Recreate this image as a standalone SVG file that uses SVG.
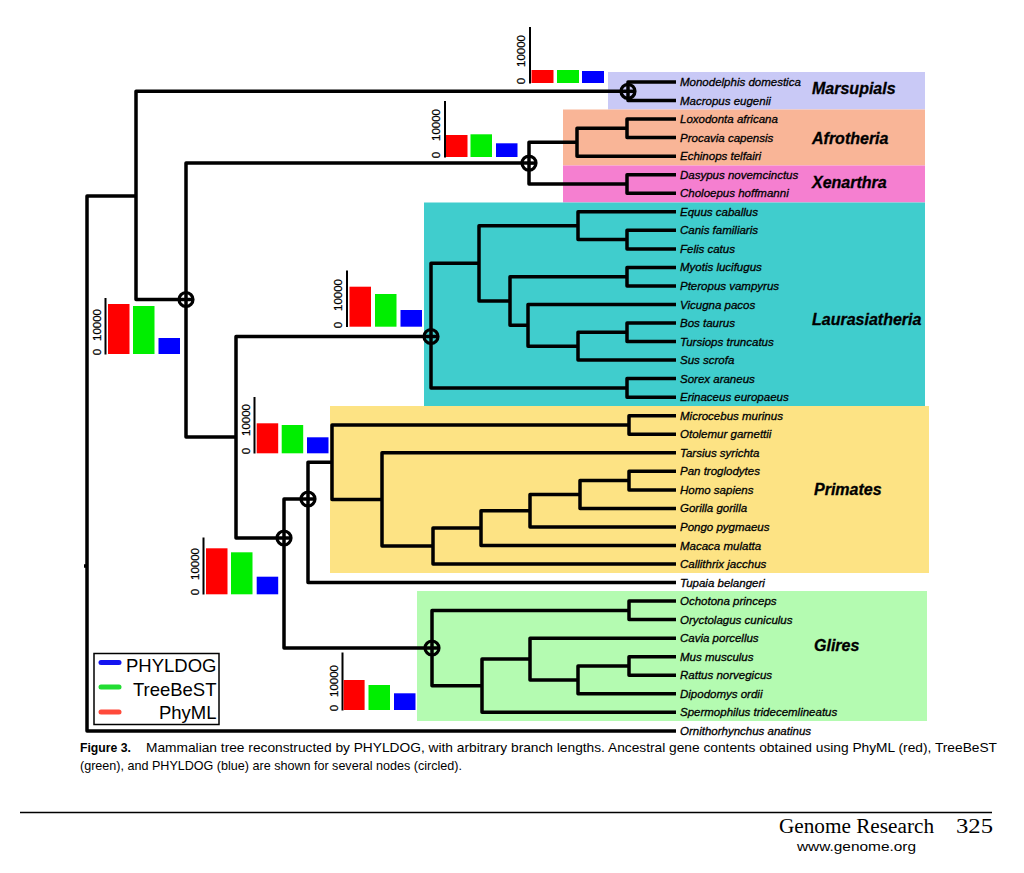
<svg xmlns="http://www.w3.org/2000/svg" width="1024" height="873" viewBox="0 0 1024 873">
<style>
.leaf{font-family:"Liberation Sans",Arial,sans-serif;font-style:italic;font-size:11.5px;fill:#000;stroke:#000;stroke-width:0.3}
.clade{font-family:"Liberation Sans",Arial,sans-serif;font-style:italic;font-weight:bold;font-size:16px;fill:#000;stroke:#000;stroke-width:0.3}
.br{fill:none;stroke:#000;stroke-width:3.5;stroke-linejoin:round;stroke-linecap:butt}
.circ{fill:none;stroke:#000;stroke-width:3.2}
.ax{stroke:#000;stroke-width:2}
.ticklab{font-family:"Liberation Sans",Arial,sans-serif;font-size:11.5px;fill:#000;stroke:#000;stroke-width:0.25}
.r{fill:#ff0000}.g{fill:#00ee00}.b{fill:#0000ff}
.leg{font-family:"Liberation Sans",Arial,sans-serif;font-size:18.5px;fill:#000}
.cap{font-family:"Liberation Sans",Arial,sans-serif;font-size:13px;fill:#000}
</style>
<rect width="1024" height="873" fill="#fff"/>

<g id="clade-boxes">
<g id="box-marsupials"><rect x="608" y="72" width="317" height="37.5" fill="#c9c9f6"/></g>
<g id="box-afrotheria"><rect x="563" y="109.5" width="362" height="56" fill="#f9b597"/></g>
<g id="box-xenarthra"><rect x="563" y="165.5" width="362" height="37" fill="#f57fd0"/></g>
<g id="box-laurasiatheria"><rect x="424" y="202.5" width="501" height="203.5" fill="#40cdcd"/></g>
<g id="box-primates"><rect x="330" y="406" width="599" height="167" fill="#fde384"/></g>
<g id="box-glires"><rect x="417" y="591" width="510" height="130" fill="#b4fbb1"/></g>
</g>

<g id="connectors">
<path class="br" d="M136 196 H87 V730.9 H676"/>
<path class="br" d="M84 566 H88"/>
<path class="br" d="M628 91.3 H136 V299.5 H186"/>
<path class="br" d="M676 82 H628 V100.5 H676"/>
<path class="br" d="M529 163.1 H186 V437 H236"/>
<path class="br" d="M577 142.3 H529 V184 H627"/>
<path class="br" d="M627 128.3 H577 V156.2 H676"/>
<path class="br" d="M676 119.1 H627 V137.6 H676"/>
<path class="br" d="M676 174.7 H627 V193.2 H676"/>
<path class="br" d="M431 336.5 H236 V538 H284"/>
<path class="br" d="M479 263.3 H431 V387.9 H627"/>
<path class="br" d="M578 225.7 H479 V301 H510"/>
<path class="br" d="M676 211.8 H578 V239.6 H627"/>
<path class="br" d="M676 230.3 H627 V248.9 H676"/>
<path class="br" d="M627 276.7 H510 V325.3 H528"/>
<path class="br" d="M676 267.4 H627 V285.9 H676"/>
<path class="br" d="M676 304.5 H528 V346.2 H578"/>
<path class="br" d="M627 332.3 H578 V360.1 H676"/>
<path class="br" d="M676 323 H627 V341.6 H676"/>
<path class="br" d="M676 378.6 H627 V397.2 H676"/>
<path class="br" d="M308 499 H284 V648 H432"/>
<path class="br" d="M332 462.2 H308 V582.6 H676"/>
<path class="br" d="M629 425 H332 V499.4 H382"/>
<path class="br" d="M676 415.7 H629 V434.3 H676"/>
<path class="br" d="M676 452.8 H382 V546.1 H433"/>
<path class="br" d="M481 528.1 H433 V564 H676"/>
<path class="br" d="M530 510.8 H481 V545.5 H676"/>
<path class="br" d="M580 494.5 H530 V527 H676"/>
<path class="br" d="M629 480.6 H580 V508.4 H676"/>
<path class="br" d="M676 471.3 H629 V489.9 H676"/>
<path class="br" d="M629 610.4 H432 V685.7 H482"/>
<path class="br" d="M676 601.1 H629 V619.6 H676"/>
<path class="br" d="M530 659 H482 V712.3 H676"/>
<path class="br" d="M676 638.2 H530 V679.9 H578"/>
<path class="br" d="M629 666 H578 V693.8 H676"/>
<path class="br" d="M676 656.7 H629 V675.3 H676"/>
</g>

<g id="circled-nodes">
<g id="c-theria-marsupial"><circle class="circ" cx="628" cy="91.3" r="7"/><path class="br" d="M628 91.3 H634" stroke-width="3"/></g>
<g id="c-atlantogenata"><circle class="circ" cx="529" cy="163.1" r="7"/><path class="br" d="M529 163.1 H535" stroke-width="3"/></g>
<g id="c-eutheria"><circle class="circ" cx="186" cy="299.5" r="7"/><path class="br" d="M186 299.5 H192" stroke-width="3"/></g>
<g id="c-laurasiatheria"><circle class="circ" cx="431" cy="336.5" r="7"/><path class="br" d="M431 336.5 H437" stroke-width="3"/></g>
<g id="c-euarchonta"><circle class="circ" cx="308" cy="499" r="7"/><path class="br" d="M308 499 H314" stroke-width="3"/></g>
<g id="c-euarchontoglires"><circle class="circ" cx="284" cy="538" r="7"/><path class="br" d="M284 538 H290" stroke-width="3"/></g>
<g id="c-glires"><circle class="circ" cx="432" cy="648" r="7"/><path class="br" d="M432 648 H438" stroke-width="3"/></g>
</g>

<g id="leaves">
<text id="l0" class="leaf" x="680" y="86">Monodelphis domestica</text>
<text id="l1" class="leaf" x="680" y="104.5">Macropus eugenii</text>
<text id="l2" class="leaf" x="680" y="123.1">Loxodonta africana</text>
<text id="l3" class="leaf" x="680" y="141.6">Procavia capensis</text>
<text id="l4" class="leaf" x="680" y="160.2">Echinops telfairi</text>
<text id="l5" class="leaf" x="680" y="178.7">Dasypus novemcinctus</text>
<text id="l6" class="leaf" x="680" y="197.2">Choloepus hoffmanni</text>
<text id="l7" class="leaf" x="680" y="215.8">Equus caballus</text>
<text id="l8" class="leaf" x="680" y="234.3">Canis familiaris</text>
<text id="l9" class="leaf" x="680" y="252.9">Felis catus</text>
<text id="l10" class="leaf" x="680" y="271.4">Myotis lucifugus</text>
<text id="l11" class="leaf" x="680" y="289.9">Pteropus vampyrus</text>
<text id="l12" class="leaf" x="680" y="308.5">Vicugna pacos</text>
<text id="l13" class="leaf" x="680" y="327">Bos taurus</text>
<text id="l14" class="leaf" x="680" y="345.6">Tursiops truncatus</text>
<text id="l15" class="leaf" x="680" y="364.1">Sus scrofa</text>
<text id="l16" class="leaf" x="680" y="382.6">Sorex araneus</text>
<text id="l17" class="leaf" x="680" y="401.2">Erinaceus europaeus</text>
<text id="l18" class="leaf" x="680" y="419.7">Microcebus murinus</text>
<text id="l19" class="leaf" x="680" y="438.3">Otolemur garnettii</text>
<text id="l20" class="leaf" x="680" y="456.8">Tarsius syrichta</text>
<text id="l21" class="leaf" x="680" y="475.3">Pan troglodytes</text>
<text id="l22" class="leaf" x="680" y="493.9">Homo sapiens</text>
<text id="l23" class="leaf" x="680" y="512.4">Gorilla gorilla</text>
<text id="l24" class="leaf" x="680" y="531">Pongo pygmaeus</text>
<text id="l25" class="leaf" x="680" y="549.5">Macaca mulatta</text>
<text id="l26" class="leaf" x="680" y="568">Callithrix jacchus</text>
<text id="l27" class="leaf" x="680" y="586.6">Tupaia belangeri</text>
<text id="l28" class="leaf" x="680" y="605.1">Ochotona princeps</text>
<text id="l29" class="leaf" x="680" y="623.6">Oryctolagus cuniculus</text>
<text id="l30" class="leaf" x="680" y="642.2">Cavia porcellus</text>
<text id="l31" class="leaf" x="680" y="660.7">Mus musculus</text>
<text id="l32" class="leaf" x="680" y="679.3">Rattus norvegicus</text>
<text id="l33" class="leaf" x="680" y="697.8">Dipodomys ordii</text>
<text id="l34" class="leaf" x="680" y="716.3">Spermophilus tridecemlineatus</text>
<text id="l35" class="leaf" x="680" y="734.9">Ornithorhynchus anatinus</text>
</g>

<g id="clade-labels">
<text id="t-marsupials" class="clade" x="812" y="94">Marsupials</text>
<text id="t-afrotheria" class="clade" x="812" y="143.5">Afrotheria</text>
<text id="t-xenarthra" class="clade" x="812" y="187.5">Xenarthra</text>
<text id="t-laurasiatheria" class="clade" x="812" y="324.5">Laurasiatheria</text>
<text id="t-primates" class="clade" x="814" y="494.5">Primates</text>
<text id="t-glires" class="clade" x="814" y="651">Glires</text>
</g>

<g id="charts">
<g id="chart-marsupial">
<line class="ax" x1="530" y1="27" x2="530" y2="83.5"/>
<text class="ticklab" text-anchor="middle" transform="translate(525 51) rotate(-90)">10000</text>
<text class="ticklab" text-anchor="middle" transform="translate(525 81) rotate(-90)">0</text>
<rect class="r" x="531.5" y="70" width="22" height="13"/>
<rect class="g" x="557" y="70" width="22" height="13"/>
<rect class="b" x="582" y="71" width="22" height="12"/>
</g>
<g id="chart-atlantogenata">
<line class="ax" x1="445" y1="101" x2="445" y2="157.5"/>
<text class="ticklab" text-anchor="middle" transform="translate(440 125) rotate(-90)">10000</text>
<text class="ticklab" text-anchor="middle" transform="translate(440 155) rotate(-90)">0</text>
<rect class="r" x="446" y="135" width="21.5" height="22"/>
<rect class="g" x="470.5" y="134.3" width="21.5" height="22.7"/>
<rect class="b" x="496" y="143.3" width="21.5" height="13.7"/>
</g>
<g id="chart-laurasiatheria">
<line class="ax" x1="347" y1="270.5" x2="347" y2="327"/>
<text class="ticklab" text-anchor="middle" transform="translate(342 295) rotate(-90)">10000</text>
<text class="ticklab" text-anchor="middle" transform="translate(342 325) rotate(-90)">0</text>
<rect class="r" x="349.5" y="286.7" width="21.5" height="40"/>
<rect class="g" x="375" y="294" width="21.5" height="32.7"/>
<rect class="b" x="400.5" y="310" width="21.5" height="16.7"/>
</g>
<g id="chart-eutheria">
<line class="ax" x1="105.5" y1="298" x2="105.5" y2="354.5"/>
<text class="ticklab" text-anchor="middle" transform="translate(101 325) rotate(-90)">10000</text>
<text class="ticklab" text-anchor="middle" transform="translate(101 352) rotate(-90)">0</text>
<rect class="r" x="108" y="304" width="21.5" height="50"/>
<rect class="g" x="133" y="306" width="21.5" height="48"/>
<rect class="b" x="158.5" y="338" width="21.5" height="16"/>
</g>
<g id="chart-euarchonta">
<line class="ax" x1="254.5" y1="397" x2="254.5" y2="453.5"/>
<text class="ticklab" text-anchor="middle" transform="translate(250 420) rotate(-90)">10000</text>
<text class="ticklab" text-anchor="middle" transform="translate(250 451) rotate(-90)">0</text>
<rect class="r" x="256.7" y="423.3" width="21.5" height="30"/>
<rect class="g" x="281.7" y="425" width="21.5" height="28.3"/>
<rect class="b" x="307" y="437.3" width="21.5" height="16"/>
</g>
<g id="chart-euarchontoglires">
<line class="ax" x1="203.5" y1="537.5" x2="203.5" y2="594.5"/>
<text class="ticklab" text-anchor="middle" transform="translate(199 564) rotate(-90)">10000</text>
<text class="ticklab" text-anchor="middle" transform="translate(199 592) rotate(-90)">0</text>
<rect class="r" x="206" y="548.3" width="21.5" height="46"/>
<rect class="g" x="231" y="552.3" width="21.5" height="42"/>
<rect class="b" x="256.7" y="576.7" width="21.5" height="17.6"/>
</g>
<g id="chart-glires">
<line class="ax" x1="342.5" y1="652.5" x2="342.5" y2="710.5"/>
<text class="ticklab" text-anchor="middle" transform="translate(338 681) rotate(-90)">10000</text>
<text class="ticklab" text-anchor="middle" transform="translate(338 708) rotate(-90)">0</text>
<rect class="r" x="343.6" y="680" width="21" height="30"/>
<rect class="g" x="368.5" y="685" width="21.5" height="25"/>
<rect class="b" x="394" y="693.3" width="21.5" height="16.7"/>
</g>
</g>

<g id="legend">
<rect x="94" y="653.5" width="125" height="71" fill="#fff" stroke="#000" stroke-width="1.5"/>
<line x1="101" y1="662.5" x2="119" y2="662.5" stroke="#1414f0" stroke-width="5" stroke-linecap="round"/>
<line x1="101" y1="687" x2="119" y2="687" stroke="#22dd33" stroke-width="5" stroke-linecap="round"/>
<line x1="101" y1="712" x2="119" y2="712" stroke="#ff4a3a" stroke-width="5" stroke-linecap="round"/>
<text class="leg" x="216.5" y="671.5" text-anchor="end">PHYLDOG</text>
<text class="leg" x="216.5" y="695.5" text-anchor="end">TreeBeST</text>
<text class="leg" x="216.5" y="718.5" text-anchor="end">PhyML</text>
</g>

<g id="caption">
<text class="cap" x="80" y="752" font-weight="bold" textLength="51" lengthAdjust="spacingAndGlyphs">Figure 3.</text>
<text class="cap" x="146" y="752" textLength="851" lengthAdjust="spacingAndGlyphs">Mammalian tree reconstructed by PHYLDOG, with arbitrary branch lengths. Ancestral gene contents obtained using PhyML (red), TreeBeST</text>
<text class="cap" x="80" y="770" textLength="382" lengthAdjust="spacingAndGlyphs">(green), and PHYLDOG (blue) are shown for several nodes (circled).</text>
</g>

<g id="footer">
<line x1="20" y1="812.5" x2="992" y2="812.5" stroke="#000" stroke-width="1.3"/>
<text x="779" y="833" font-family="Liberation Serif,Times New Roman,serif" font-size="20" textLength="155" lengthAdjust="spacingAndGlyphs">Genome Research</text>
<text x="956" y="833" font-family="Liberation Serif,Times New Roman,serif" font-size="20" textLength="37" lengthAdjust="spacingAndGlyphs">325</text>
<text x="797" y="851" font-family="Liberation Sans,Arial,sans-serif" font-size="13.5" textLength="119" lengthAdjust="spacingAndGlyphs">www.genome.org</text>
</g>
</svg>
